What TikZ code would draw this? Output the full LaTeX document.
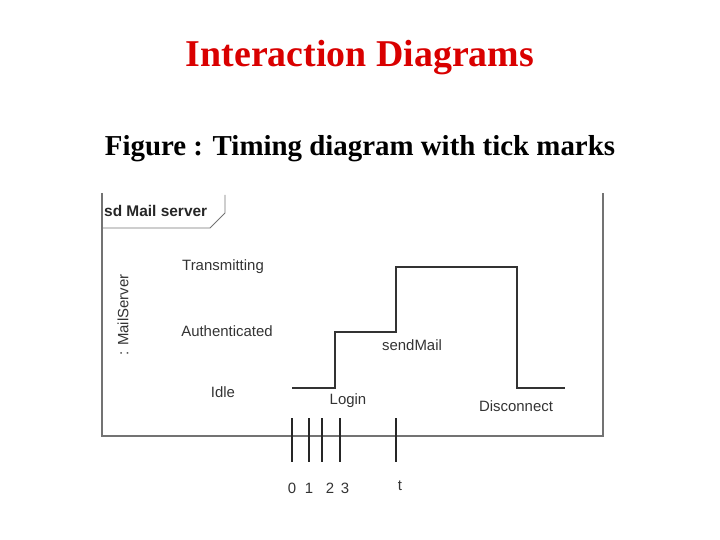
\documentclass[tikz,border=0pt]{standalone}
\usepackage{fontspec}
\setmainfont{Liberation Serif}
\newfontfamily\diag{Liberation Sans}
\begin{document}
\begin{tikzpicture}[x=1bp,y=-1bp,
  lbl/.style={font=\diag\fontsize{15}{17}\selectfont, text=black!80, inner sep=0},
  wave/.style={line width=1.4pt, black!80},
  tick/.style={line width=1.3pt, black!85},
  frame/.style={line width=1.3pt, black!55}]
\useasboundingbox (0,0) rectangle (720,540);
\node[font=\bfseries\fontsize{38}{42}\selectfont, text=red!85!black] (title) at (360,58) {Interaction Diagrams};
\node[font=\bfseries\fontsize{29}{32}\selectfont] (cap) at (360,149) {Figure : Timing diagram with tick marks};
% frame
\draw[frame] (102,193) -- (102,436) -- (603,436) -- (603,193);
\draw[frame, line width=0.8pt] (102,228) -- (210,228) -- (225,213) -- (225,195);
\node[font=\diag\bfseries\fontsize{15.5}{18}\selectfont, anchor=west, inner sep=0, text=black!85] (sd) at (104,211) {sd Mail server};
% state labels
\node[lbl] (tr) at (223,267) {Transmitting};
\node[lbl] (au) at (227,331) {Authenticated};
\node[lbl] (id) at (223,392) {Idle};
\node[lbl, rotate=90] (ms) at (123,315) {: MailServer};
% waveform
\coordinate (w0) at (292,388);
\coordinate (w1) at (335,388);
\coordinate (w2) at (335,332);
\coordinate (w3) at (396,332);
\coordinate (w4) at (396,267);
\coordinate (w5) at (517,267);
\coordinate (w6) at (517,388);
\coordinate (w7) at (565,388);
\draw[wave] (w0) -- (w1) -- (w2) -- (w3) -- (w4) -- (w5) -- (w6) -- (w7);
\node[lbl] (login) at (348,401) {Login};
\node[lbl] (send) at (412,345) {sendMail};
\node[lbl] (disc) at (516,406) {Disconnect};
% ticks
\foreach \n/\x in {a/292,b/309,c/322,d/340,e/396}{
  \coordinate (\n1) at (\x,418); \coordinate (\n2) at (\x,462);
  \draw[tick] (\n1) -- (\n2);}
\node[lbl] (t0) at (292,488) {0};
\node[lbl] (t1) at (309,488) {1};
\node[lbl] (t2) at (330,488) {2};
\node[lbl] (t3) at (345,488) {3};
\node[lbl] (tt) at (400,486) {t};
\end{tikzpicture}
\end{document}
